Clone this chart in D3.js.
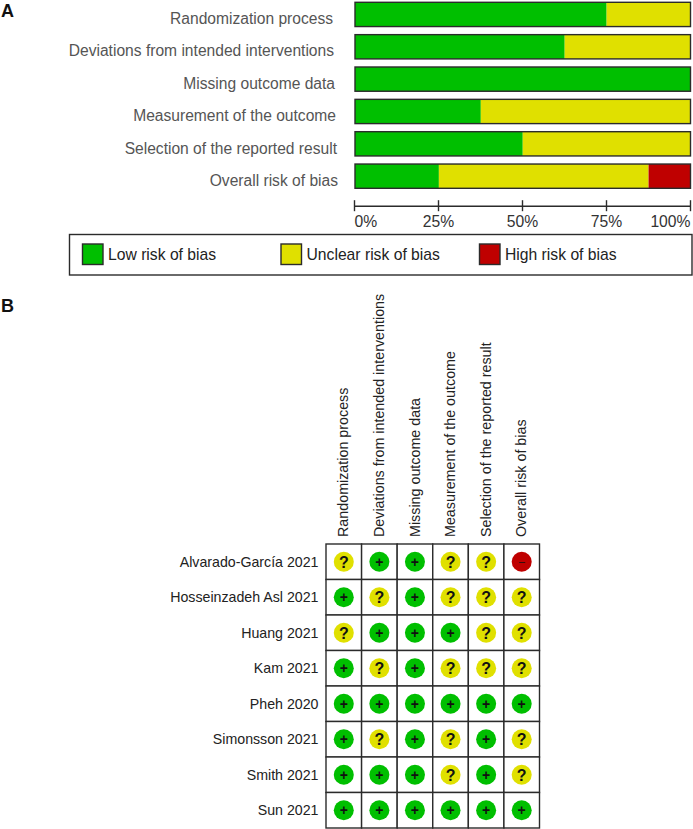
<!DOCTYPE html>
<html>
<head>
    <meta charset="utf-8">
    <title>Risk of bias summary</title>
    <script src="https://d3js.org/d3.v7.min.js"></script>
    <style>
        html, body { margin: 0; padding: 0; background: #fff; }
        svg { display: block; font-family: "Liberation Sans", Arial, sans-serif; }
        .domain-label { font-size: 15.6px; fill: #555; }
        .tick-label { font-size: 15.7px; fill: #333; }
        .legend-label { font-size: 15.7px; fill: #222; }
        .study-label { font-size: 14.2px; fill: #222; }
        .column-label { font-size: 14.3px; fill: #222; }
        .panel-letter { font-size: 18px; font-weight: bold; fill: #111; }
        .symbol { font-weight: bold; fill: #111; text-anchor: middle; }
    </style>
</head>
<body>
    <div id="chart"></div>
    <script>
        // Domains, same order in both panels
        const domains = [
            "Randomization process",
            "Deviations from intended interventions",
            "Missing outcome data",
            "Measurement of the outcome",
            "Selection of the reported result",
            "Overall risk of bias"
        ];

        // Panel A percentages
        const lowPct = [75, 62.5, 100, 37.5, 50, 25];
        const unclearPct = [25, 37.5, 0, 62.5, 50, 62.5];
        const highPct = [0, 0, 0, 0, 0, 12.5];
        const axisTicks = [0, 25, 50, 75, 100];

        // Panel B judgements
        const studies = [
            "Alvarado-García 2021",
            "Hosseinzadeh Asl 2021",
            "Huang 2021",
            "Kam 2021",
            "Pheh 2020",
            "Simonsson 2021",
            "Smith 2021",
            "Sun 2021"
        ];
        const judgements = [
            ["?", "+", "+", "?", "?", "-"],
            ["+", "?", "+", "?", "?", "?"],
            ["?", "+", "+", "+", "?", "?"],
            ["+", "?", "+", "?", "?", "?"],
            ["+", "+", "+", "+", "+", "+"],
            ["+", "?", "+", "?", "+", "?"],
            ["+", "+", "+", "?", "+", "?"],
            ["+", "+", "+", "+", "+", "+"]
        ];

        const legendLabels = ["Low risk of bias", "Unclear risk of bias", "High risk of bias"];
        const colors = { low: "#00bf00", unclear: "#e0e000", high: "#bf0000" };
        const symbolColor = { "+": colors.low, "?": colors.unclear, "-": colors.high };
        const lineColor = "#2b2b2b";

        const svg = d3.select("#chart")
            .append("svg")
            .attr("width", 693)
            .attr("height", 829);

        svg.append("text").attr("class", "panel-letter").attr("x", 1).attr("y", 16.5).text("A");
        svg.append("text").attr("class", "panel-letter").attr("x", 1).attr("y", 312).text("B");

        // ---- Panel A ----
        const x = d3.scaleLinear().domain([0, 100]).range([355, 690.5]);
        const xAxis = x.copy().range([354, 690]);
        const y = d3.scaleBand().domain(domains).range([2.3, 188.3]).paddingInner(0.25).paddingOuter(0);

        const stacked = domains.map((d, i) => ({
            name: d,
            segments: [
                { key: "low", from: 0, to: lowPct[i] },
                { key: "unclear", from: lowPct[i], to: lowPct[i] + unclearPct[i] },
                { key: "high", from: lowPct[i] + unclearPct[i], to: lowPct[i] + unclearPct[i] + highPct[i] }
            ]
        }));

        const barRows = svg.append("g").selectAll("g")
            .data(stacked)
            .enter()
            .append("g")
            .attr("transform", d => "translate(0," + y(d.name) + ")");

        barRows.selectAll("rect.seg")
            .data(d => d.segments.filter(s => s.to > s.from))
            .enter()
            .append("rect")
            .attr("class", "seg")
            .attr("x", d => x(d.from))
            .attr("width", d => x(d.to) - x(d.from))
            .attr("height", y.bandwidth())
            .attr("fill", d => colors[d.key]);

        barRows.append("rect")
            .attr("x", x(0))
            .attr("width", x(100) - x(0))
            .attr("height", y.bandwidth())
            .attr("fill", "none")
            .attr("stroke", lineColor)
            .attr("stroke-width", 1.4);

        // the source labels drift right a little going down
        svg.append("g").selectAll("text")
            .data(domains)
            .enter()
            .append("text")
            .attr("class", "domain-label")
            .attr("text-anchor", "end")
            .attr("x", (d, i) => 333 + i)
            .attr("y", d => y(d) + y.bandwidth() / 2 + 9.7)
            .text(d => d);

        const axisG = svg.append("g")
            .attr("transform", "translate(0,205.7)")
            .call(d3.axisBottom(xAxis).tickValues(axisTicks).tickFormat(d => d + "%").tickSize(0));
        axisG.select(".domain").attr("stroke", lineColor).attr("stroke-width", 1.4);
        axisG.selectAll(".tick line")
            .attr("y1", -5.5)
            .attr("y2", 5.5)
            .attr("stroke", lineColor)
            .attr("stroke-width", 1.4);
        axisG.selectAll(".tick text")
            .attr("class", "tick-label")
            .attr("font-size", null)
            .attr("font-family", null)
            .attr("fill", null)
            .attr("y", 10)
            .attr("dy", "0.71em")
            .attr("text-anchor", d => d === 0 ? "start" : d === 100 ? "end" : "middle");

        // Legend
        svg.append("rect")
            .attr("x", 69.5)
            .attr("y", 234.5)
            .attr("width", 622.5)
            .attr("height", 40.5)
            .attr("fill", "#fff")
            .attr("stroke", lineColor)
            .attr("stroke-width", 1.4);

        const legendX = d3.scalePoint().domain(legendLabels).range([82.5, 479.5]);
        const legendColor = d3.scaleOrdinal().domain(legendLabels).range([colors.low, colors.unclear, colors.high]);

        const legendItems = svg.append("g").selectAll("g")
            .data(legendLabels)
            .enter()
            .append("g")
            .attr("transform", d => "translate(" + legendX(d) + ",244)");
        legendItems.append("rect")
            .attr("width", 20.5)
            .attr("height", 20.5)
            .attr("fill", d => legendColor(d))
            .attr("stroke", lineColor)
            .attr("stroke-width", 1.4);
        legendItems.append("text")
            .attr("class", "legend-label")
            .attr("x", 25.5)
            .attr("y", 16)
            .text(d => d);

        // ---- Panel B ----
        const col = d3.scaleBand().domain(domains).range([326, 539.5]);
        const row = d3.scaleBand().domain(studies).range([544, 828]);
        const radius = 10;

        const cells = [];
        studies.forEach((s, i) => {
            domains.forEach((d, j) => {
                cells.push({ study: s, domain: d, value: judgements[i][j] });
            });
        });

        const cell = svg.append("g").selectAll("g")
            .data(cells)
            .enter()
            .append("g")
            .attr("transform", d => "translate(" + col(d.domain) + "," + row(d.study) + ")");

        cell.append("rect")
            .attr("width", col.bandwidth())
            .attr("height", row.bandwidth())
            .attr("fill", "#fff")
            .attr("stroke", lineColor)
            .attr("stroke-width", 1.4);

        cell.append("circle")
            .attr("cx", col.bandwidth() / 2)
            .attr("cy", row.bandwidth() / 2)
            .attr("r", radius)
            .attr("fill", d => symbolColor[d.value]);

        cell.append("text")
            .attr("class", "symbol")
            .attr("x", col.bandwidth() / 2)
            .attr("y", row.bandwidth() / 2)
            .attr("dy", d => d.value === "?" ? "0.37em" : "0.34em")
            .attr("font-size", d => d.value === "?" ? 16 : d.value === "-" ? 11 : 14)
            .style("font-weight", d => d.value === "-" ? "normal" : "bold")
            .text(d => d.value === "-" ? "–" : d.value);

        svg.append("g").selectAll("text")
            .data(studies)
            .enter()
            .append("text")
            .attr("class", "study-label")
            .attr("text-anchor", "end")
            .attr("x", 318.5)
            .attr("y", d => row(d) + row.bandwidth() / 2 + 5)
            .text(d => d);

        svg.append("g").selectAll("text")
            .data(domains)
            .enter()
            .append("text")
            .attr("class", "column-label")
            .attr("transform", d => "translate(" + (col(d) + col.bandwidth() / 2 + 4.7) + ",537) rotate(-90)")
            .text(d => d);
    </script>
</body>
</html>
